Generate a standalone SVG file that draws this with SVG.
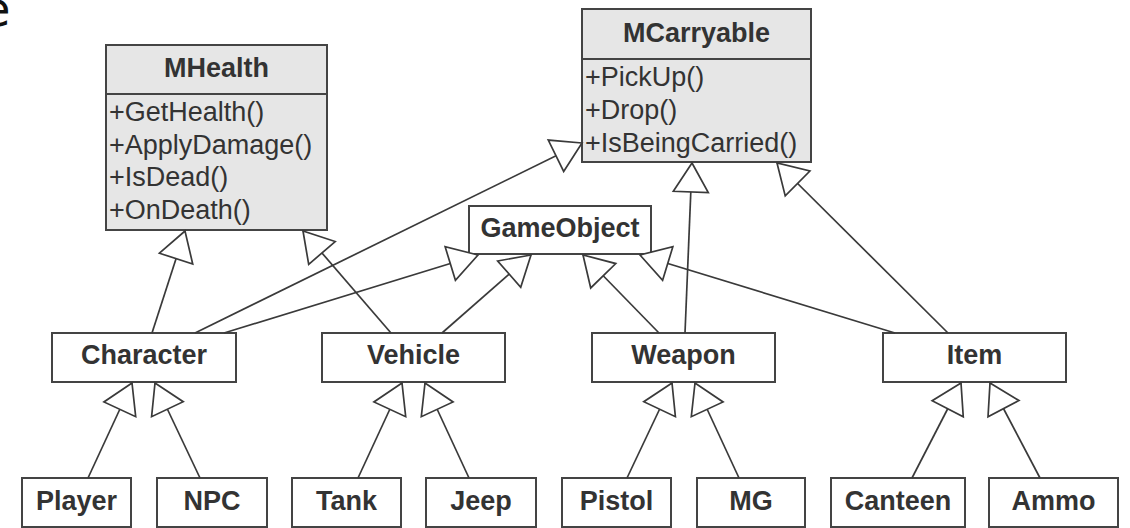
<svg xmlns="http://www.w3.org/2000/svg" width="1130" height="528" viewBox="0 0 1130 528">
<style>
.box{fill:#fff;stroke:#444;stroke-width:2}
.cls{fill:#e6e6e6;stroke:#444;stroke-width:2}
.lbl{font-family:"Liberation Sans",Arial,sans-serif;font-weight:bold;font-size:27px;fill:#333;text-anchor:middle}
.attr{font-family:"Liberation Sans",Arial,sans-serif;font-size:27px;fill:#333}
.conn line{stroke:#3a3a3a;stroke-width:1.7;marker-end:url(#gen)}
</style>
<defs>
<marker id="gen" markerUnits="userSpaceOnUse" viewBox="-32 -20 34 40" markerWidth="34" markerHeight="40" refX="0" refY="0" orient="auto">
<path d="M0,0 L-29,-17.5 L-29,17.5 Z" fill="#fff" stroke="#3a3a3a" stroke-width="1.7" stroke-linejoin="miter"/>
</marker>
</defs>
<rect width="1130" height="528" fill="#fff"/>
<text x="-19" y="26" font-family="DejaVu Sans,sans-serif" font-size="48" fill="#111">e</text>

<g id="MHealth">
<rect class="cls" x="106" y="45" width="221" height="185"/>
<line x1="106" y1="94" x2="327" y2="94" stroke="#444" stroke-width="2"/>
<text class="lbl" x="216.5" y="77">MHealth</text>
<text class="attr" x="109" y="121">+GetHealth()</text>
<text class="attr" x="109" y="153.5">+ApplyDamage()</text>
<text class="attr" x="109" y="186">+IsDead()</text>
<text class="attr" x="109" y="218.5">+OnDeath()</text>
</g>
<g id="MCarryable">
<rect class="cls" x="582" y="9" width="229" height="153"/>
<line x1="582" y1="59" x2="811" y2="59" stroke="#444" stroke-width="2"/>
<text class="lbl" x="696.5" y="42">MCarryable</text>
<text class="attr" x="585" y="86">+PickUp()</text>
<text class="attr" x="585" y="118.5">+Drop()</text>
<text class="attr" x="585" y="151.5">+IsBeingCarried()</text>
</g>
<g id="GameObject">
<rect class="box" x="469" y="206" width="182" height="48"/>
<text class="lbl" x="560" y="237">GameObject</text>
</g>
<g id="Character">
<rect class="box" x="52" y="333" width="184" height="49"/>
<text class="lbl" x="144" y="364">Character</text>
</g>
<g id="Vehicle">
<rect class="box" x="322" y="333" width="183" height="49"/>
<text class="lbl" x="413.5" y="364">Vehicle</text>
</g>
<g id="Weapon">
<rect class="box" x="592" y="333" width="183" height="49"/>
<text class="lbl" x="683.5" y="364">Weapon</text>
</g>
<g id="Item">
<rect class="box" x="883" y="333" width="183" height="49"/>
<text class="lbl" x="974.5" y="364">Item</text>
</g>
<g id="Player">
<rect class="box" x="22" y="478" width="109" height="49"/>
<text class="lbl" x="76.5" y="510">Player</text>
</g>
<g id="NPC">
<rect class="box" x="157" y="478" width="110" height="49"/>
<text class="lbl" x="212" y="510">NPC</text>
</g>
<g id="Tank">
<rect class="box" x="292" y="478" width="109" height="49"/>
<text class="lbl" x="346.5" y="510">Tank</text>
</g>
<g id="Jeep">
<rect class="box" x="426" y="478" width="110" height="49"/>
<text class="lbl" x="481" y="510">Jeep</text>
</g>
<g id="Pistol">
<rect class="box" x="562" y="478" width="109" height="49"/>
<text class="lbl" x="616.5" y="510">Pistol</text>
</g>
<g id="MG">
<rect class="box" x="697" y="478" width="108" height="49"/>
<text class="lbl" x="751" y="510">MG</text>
</g>
<g id="Canteen">
<rect class="box" x="831" y="478" width="134" height="49"/>
<text class="lbl" x="898" y="510">Canteen</text>
</g>
<g id="Ammo">
<rect class="box" x="989" y="478" width="129" height="49"/>
<text class="lbl" x="1053.5" y="510">Ammo</text>
</g>

<g id="connectors" class="conn">
<line x1="152" y1="333" x2="185" y2="231"/>
<line x1="195" y1="333" x2="582" y2="143"/>
<line x1="224" y1="333" x2="478" y2="255"/>
<line x1="391" y1="333" x2="303" y2="231"/>
<line x1="442" y1="333" x2="531" y2="255"/>
<line x1="659" y1="333" x2="583" y2="255"/>
<line x1="685" y1="333" x2="692" y2="163"/>
<line x1="895" y1="333" x2="640" y2="255"/>
<line x1="948" y1="333" x2="777" y2="163"/>
<line x1="88" y1="478" x2="132" y2="383"/>
<line x1="200" y1="478" x2="155" y2="383"/>
<line x1="358" y1="478" x2="402" y2="383"/>
<line x1="469" y1="478" x2="425" y2="383"/>
<line x1="627" y1="478" x2="672" y2="383"/>
<line x1="739" y1="478" x2="695" y2="383"/>
<line x1="912" y1="478" x2="961" y2="383"/>
<line x1="1040" y1="478" x2="990" y2="383"/>
</g>
</svg>
